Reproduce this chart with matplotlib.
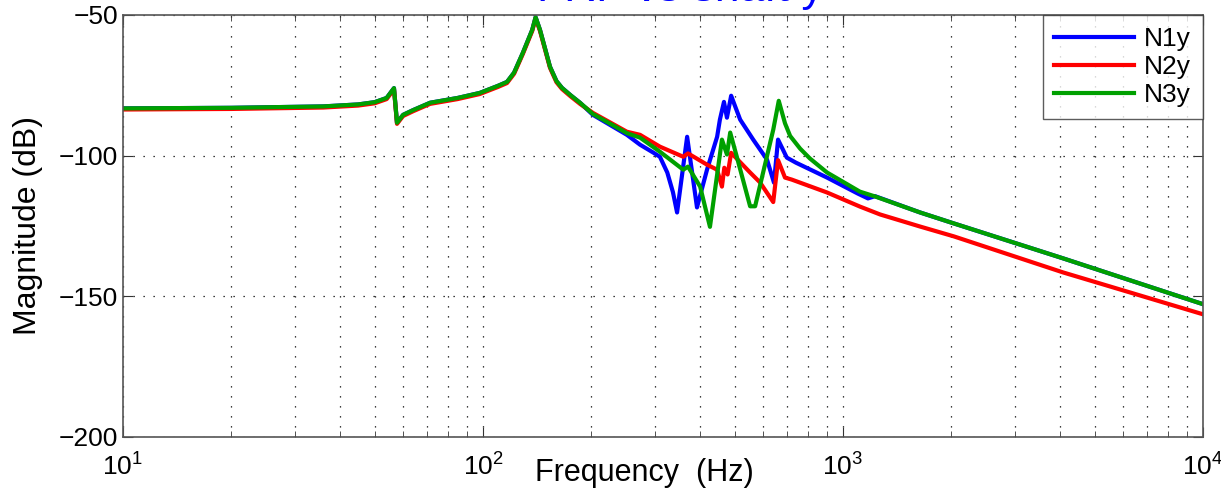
import numpy as np
import matplotlib
matplotlib.use("Agg")
import matplotlib.pyplot as plt

plt.rcParams['font.family'] = ['Liberation Sans', 'DejaVu Sans']
plt.rcParams['mathtext.fontset'] = 'custom'
plt.rcParams['mathtext.rm'] = 'Liberation Sans'
plt.rcParams['mathtext.it'] = 'Liberation Sans'

# shared low-frequency part (all three nodes coincide below ~190 Hz)
f_low = [10, 20, 36, 45, 50, 54, 56.6, 57.7, 60, 64, 71.3, 85, 98, 110, 116.6,
         122, 129, 137, 140, 144, 153.5, 160, 165.7, 175, 186]
db_low = [-83.2, -83.0, -82.5, -81.8, -81.0, -79.5, -76.0, -88.3, -85.5, -83.8,
          -81.2, -79.5, -77.7, -75.2, -73.8, -70.5, -63.5, -55.3, -50.8, -55.3,
          -68.4, -73.5, -75.9, -78.5, -81.2]

f_n1 = [202, 251, 273, 297, 310, 325, 337, 346, 369, 393, 419, 447, 455, 467, 476,
        489, 500, 518, 563, 615, 643, 660, 698, 740, 903, 1100, 1173, 1227, 1637,
        2032, 4083, 10000]
db_n1 = [-85.5, -92.6, -96.1, -98.9, -100.4, -106, -113, -120.2, -93.3, -118.4,
         -105, -93.3, -87.2, -80.9, -86.5, -78.7, -82, -87.2, -94.3, -101.4, -109.6,
         -94.3, -100.7, -102.5, -107.8, -113.5, -115.2, -114.4, -120.2, -124.1,
         -136.5, -152.8]

f_n2 = [202, 251, 273, 310, 360, 371, 419, 447, 461, 468, 478, 489, 552, 588, 640,
        660, 690, 720, 903, 1114, 1267, 1637, 2032, 4083, 10000]
db_n2 = [-84.8, -91.5, -92.6, -96.8, -100.4, -99.2, -103.2, -105, -111, -104.3,
         -106.7, -99, -106, -109.5, -116.5, -101.6, -107.8, -108.5, -113.1, -118.1,
         -120.9, -125.2, -128.7, -141.5, -156.4]

f_n3 = [202, 251, 273, 310, 360, 371, 401, 427, 461, 476, 486, 507, 552, 570, 640,
        663, 690, 713, 760, 809, 903, 1114, 1227, 1637, 2032, 4083, 10000]
db_n3 = [-85.2, -92, -93.6, -98.6, -105, -103.9, -111, -125.3, -94.3, -99.6, -91.8,
         -100.4, -118, -118, -90.8, -80.5, -88.5, -93, -97.5, -101, -106, -112.8,
         -114.5, -120.2, -124.1, -136.5, -152.8]

fig = plt.figure(figsize=(12.21, 4.96), dpi=100)
ax = fig.add_axes([0.1007, 0.119, 0.8846, 0.8508])

ax.semilogx(f_low + f_n1, db_low + db_n1, color='#0000ff', lw=3, label='N1y')
ax.semilogx(f_low + f_n2, [d - 0.4 for d in db_low] + db_n2, color='#ff0000', lw=3,
            label='N2y')
ax.semilogx(f_low + f_n3, db_low + db_n3, color='#00a000', lw=3, label='N3y')

ax.set_xlim(10, 1e4)
ax.set_ylim(-200, -50)
ax.set_yticks([-200, -150, -100, -50])
ax.grid(True, which='major', color='black', linestyle=(0, (1, 7)), lw=0.9)
ax.grid(True, which='minor', axis='x', color='black', linestyle=(0, (1, 7)), lw=0.9)

ax.tick_params(which='both', direction='in', top=True, right=True, labelsize=19,
               color='#333333')
ax.tick_params(which='major', length=7)
ax.tick_params(which='minor', length=4)
ax.tick_params(axis='x', pad=12)
for s in ax.spines.values():
    s.set_color('#555555')
    s.set_linewidth(1.2)

ax.set_xlabel('Frequency  (Hz)', fontsize=22)
ax.xaxis.set_label_coords(0.483, -0.05)
ax.set_ylabel('Magnitude (dB)', fontsize=23)
ax.yaxis.set_label_coords(-0.074, 0.5)

# title mostly falls outside the top edge, as in the reference
fig.text(0.557, 0.997, 'FRF vs shaft y', color='#0000ff', fontsize=32,
         ha='center', va='baseline')

leg = ax.legend(loc='upper right', fontsize=19, frameon=True, fancybox=False,
                edgecolor='#333333', handlelength=3.0, borderaxespad=0.0,
                labelspacing=0.15, handletextpad=0.4, borderpad=0.45)
leg.get_frame().set_linewidth(1.0)

fig.savefig('out.png', dpi=100)
